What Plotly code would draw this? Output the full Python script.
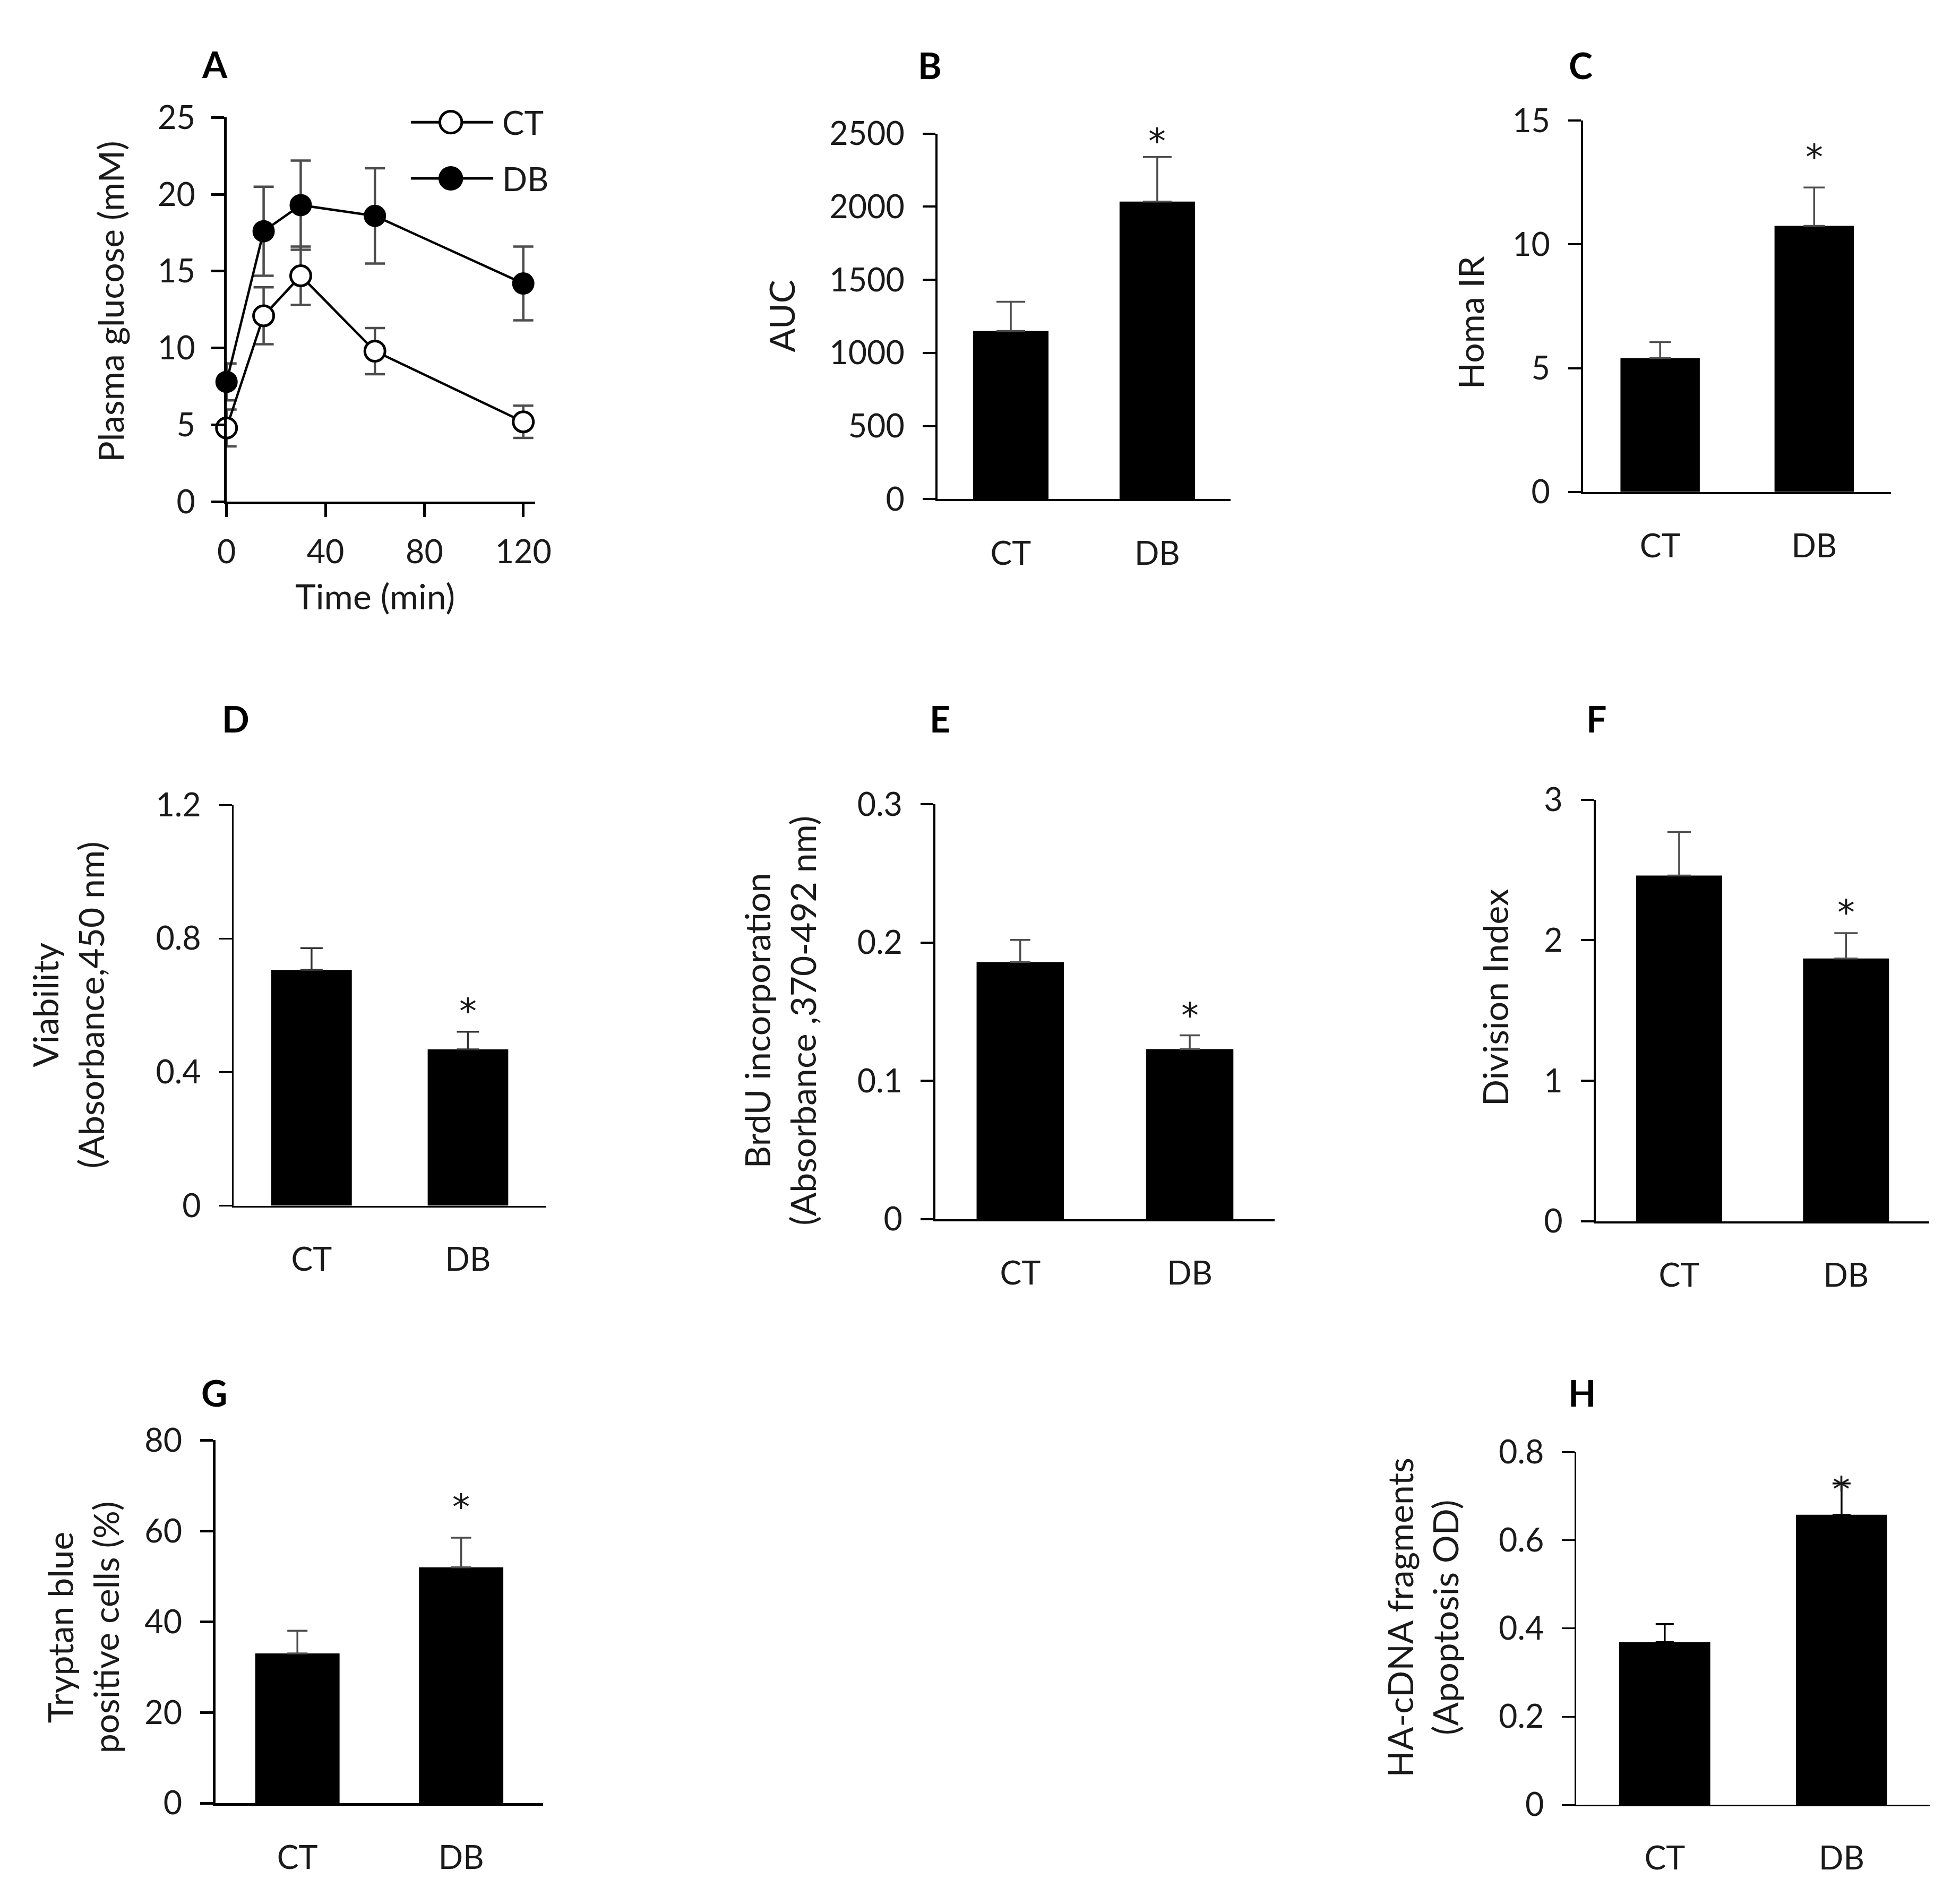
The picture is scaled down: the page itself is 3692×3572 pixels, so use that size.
import plotly.graph_objects as go

# ---- data ----
groups = ['CT', 'DB']

# A: glucose tolerance curve
time_min = [0, 15, 30, 60, 120]
ct_glucose = [4.8, 12.1, 14.7, 9.8, 5.2]
ct_glucose_err = [1.2, 1.85, 1.9, 1.5, 1.05]
db_glucose = [7.8, 17.6, 19.3, 18.6, 14.2]
db_glucose_err = [1.2, 2.9, 2.9, 3.1, 2.4]

# B-H: bar panels (CT, DB) with one-sided SEM
auc = [1150, 2035]
auc_err = [200, 305]
homa_ir = [5.4, 10.75]
homa_ir_err = [0.65, 1.55]
viability = [0.706, 0.468]
viability_err = [0.065, 0.053]
brdu = [0.186, 0.123]
brdu_err = [0.016, 0.010]
division_index = [2.46, 1.87]
division_index_err = [0.31, 0.18]
tryptan_blue = [33.0, 52.0]
tryptan_blue_err = [5.0, 6.5]
ha_cdna = [0.369, 0.658]
ha_cdna_err = [0.041, 0.071]

# where the significance star sits (data units)
star_y = {'B': 2520, 'C': 13.95, 'D': 0.613, 'E': 0.155, 'F': 2.27, 'G': 67.6, 'H': 0.739}

W, H = 3692, 3572
FONT = 'Lato'
TXT = '#1a1a1a'
ERR = '#4d4d4d'


def fx(px):
    return px / W


def fy(py):
    return 1 - py / H


fig = go.Figure()

# ---- panel A ----
fig.add_trace(go.Scatter(
    x=time_min, y=db_glucose, name='DB', mode='lines+markers',
    line=dict(color='black', width=4.5),
    marker=dict(size=38, color='black', line=dict(color='black', width=4)),
    error_y=dict(type='data', array=db_glucose_err, color=ERR, thickness=4.5, width=19),
    cliponaxis=False, showlegend=False, xaxis='x', yaxis='y'))
fig.add_trace(go.Scatter(
    x=time_min, y=ct_glucose, name='CT', mode='lines+markers',
    line=dict(color='black', width=4.5),
    marker=dict(size=38, color='white', line=dict(color='black', width=5)),
    error_y=dict(type='data', array=ct_glucose_err, color=ERR, thickness=4.5, width=19),
    cliponaxis=False, showlegend=False, xaxis='x', yaxis='y'))

# ---- bar panels ----
# (key, values, errors, y max, y ticks, x px span, y px span, line width, err colour, cap)
bar_panels = [
    ('B', auc, auc_err, 2500, [0, 500, 1000, 1500, 2000, 2500], (1763, 2322), (209, 912), 4, ERR, 27),
    ('C', homa_ir, homa_ir_err, 15, [0, 5, 10, 15], (2995, 3583), (184, 898), 4, ERR, 20),
    ('D', viability, viability_err, 1.2, [0, 0.4, 0.8, 1.2], (419, 1016), (1500, 2271), 2.5, '#333333', 21),
    ('E', brdu, brdu_err, 0.3, [0, 0.1, 0.2, 0.3], (1759, 2406), (1499, 2297), 4, ERR, 19),
    ('F', division_index, division_index_err, 3, [0, 1, 2, 3], (3019, 3656), (1490, 2301), 4, ERR, 22),
    ('G', tryptan_blue, tryptan_blue_err, 80, [0, 20, 40, 60, 80], (385, 1010), (2722, 3420), 4.5, ERR, 19),
    ('H', ha_cdna, ha_cdna_err, 0.8, [0, 0.2, 0.4, 0.6, 0.8], (2982, 3657), (2745, 3423), 2.5, 'black', 17),
]

tick_font = dict(family=FONT, size=61, color=TXT)
layout_axes = {}

# panel A axes
layout_axes['xaxis'] = dict(
    domain=[fx(406), fx(995)], anchor='y', range=[0, 124.8],
    tickvals=[0, 40, 80, 120], ticks='outside', ticklen=24, tickwidth=4.5, tickcolor='black',
    showline=True, linewidth=4.5, linecolor='black', showgrid=False, zeroline=False,
    tickfont=tick_font, ticklabelstandoff=14)
layout_axes['yaxis'] = dict(
    domain=[fy(917), fy(178)], anchor='x', range=[0, 25],
    tickvals=[0, 5, 10, 15, 20, 25], ticks='outside', ticklen=24, tickwidth=4.5, tickcolor='black',
    showline=True, linewidth=4.5, linecolor='black', showgrid=False, zeroline=False,
    tickfont=tick_font, ticklabelstandoff=18)

annotations = []

for i, (key, vals, errs, ymax, yt, xs, ys, lw, ecol, cap) in enumerate(bar_panels, start=2):
    fig.add_trace(go.Bar(
        x=groups, y=vals, width=0.515, marker=dict(color='black', line=dict(width=0)),
        error_y=dict(type='data', array=errs, arrayminus=[0, 0], symmetric=False,
                     color=ecol, thickness=3.5, width=cap),
        showlegend=False, xaxis=f'x{i}', yaxis=f'y{i}'))
    layout_axes[f'xaxis{i}'] = dict(
        domain=[fx(xs[0]), fx(xs[1])], anchor=f'y{i}', range=[-0.5, 1.5],
        ticks='', showline=True, linewidth=lw, linecolor='black', showgrid=False,
        zeroline=False, tickfont=tick_font, ticklabelstandoff=46)
    layout_axes[f'yaxis{i}'] = dict(
        domain=[fy(ys[1]), fy(ys[0])], anchor=f'x{i}', range=[0, ymax],
        tickvals=yt, ticktext=[f'{v:g}' for v in yt],
        ticks='outside', ticklen=24, tickwidth=lw, tickcolor='black',
        showline=True, linewidth=lw, linecolor='black', showgrid=False, zeroline=False,
        tickfont=tick_font, ticklabelstandoff=22)
    # significance star above the DB bar
    annotations.append(dict(text='*', x='DB', y=star_y[key] / ymax, xref=f'x{i}',
                            yref=f'y{i} domain', showarrow=False, xanchor='center',
                            yanchor='middle', yshift=-20,
                            font=dict(family='DejaVu Sans', size=66, color=TXT)))

# panel letters
letters = {'A': (383, 75), 'B': (1748, 77), 'C': (2990, 77),
           'D': (423, 1334), 'E': (1767, 1334), 'F': (3021, 1334),
           'G': (382, 2630), 'H': (2993, 2630)}
for k, (px, py) in letters.items():
    annotations.append(dict(text=f'<b>{k}</b>', x=fx(px), y=fy(py), xref='paper', yref='paper',
                            showarrow=False, xanchor='center', yanchor='middle',
                            font=dict(family=FONT, size=68, color='black')))

# y titles
ytitles = [
    ('Plasma glucose (mM)', 184, 532),
    ('AUC', 1465, 560),
    ('Homa IR', 2779, 572),
    ('Viability<br>(Absorbance,450 nm)', 103, 1885),
    ('BrdU incorporation<br>(Absorbance ,370-492 nm)', 1462, 1915),
    ('Division Index', 2827, 1870),
    ('Tryptan blue<br>positive cells (%)', 131, 3082),
    ('HA-cDNA fragments<br>(Apoptosis OD)', 2688, 3063),
]
for t, px, py in ytitles:
    annotations.append(dict(text=t, x=fx(px), y=fy(py), xref='paper', yref='paper',
                            showarrow=False, textangle=-90, xanchor='center', yanchor='middle',
                            font=dict(family=FONT, size=66, color=TXT)))

annotations.append(dict(text='Time (min)', x=fx(689), y=fy(1098), xref='paper', yref='paper',
                        showarrow=False, xanchor='center', yanchor='middle',
                        font=dict(family=FONT, size=66, color=TXT)))

# legend for panel A, drawn as a key: line + circle + label
shapes = []
legend_rows = [('CT', 'white', 187), ('DB', 'black', 295)]
r = 21
for label, fill, py in legend_rows:
    shapes.append(dict(type='line', xref='paper', yref='paper',
                       x0=fx(758), x1=fx(915), y0=fy(py), y1=fy(py),
                       line=dict(color='black', width=5)))
    shapes.append(dict(type='circle', xref='paper', yref='paper',
                       x0=fx(834 - r), x1=fx(834 + r), y0=fy(py + r), y1=fy(py - r),
                       fillcolor=fill, line=dict(color='black', width=5)))
    annotations.append(dict(text=label, x=fx(930), y=fy(py), xref='paper', yref='paper',
                            showarrow=False, xanchor='left', yanchor='middle',
                            font=dict(family=FONT, size=62, color=TXT)))

fig.update_layout(
    width=W, height=H, margin=dict(l=0, r=0, t=0, b=0),
    paper_bgcolor='white', plot_bgcolor='white',
    font=dict(family=FONT, color=TXT),
    showlegend=False,
    annotations=annotations,
    shapes=shapes,
    **layout_axes)

fig.write_html("out.html")
